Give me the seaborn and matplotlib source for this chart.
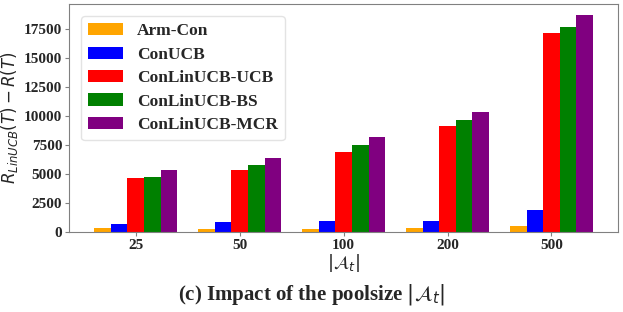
import pandas as pd
import numpy as np
import matplotlib.pyplot as plt
import seaborn as sns

pool_sizes = ['25', '50', '100', '200', '500']
algorithms = ['Arm-Con', 'ConUCB', 'ConLinUCB-UCB', 'ConLinUCB-BS', 'ConLinUCB-MCR']
colors = ['orange', 'blue', 'red', 'green', 'purple']

arm_con = [320, 270, 300, 360, 500]
conucb = [680, 850, 1000, 950, 1900]
conlinucb_ucb = [4650, 5370, 6930, 9140, 17150]
conlinucb_bs = [4740, 5750, 7470, 9630, 17620]
conlinucb_mcr = [5320, 6380, 8160, 10350, 18680]

series = [arm_con, conucb, conlinucb_ucb, conlinucb_bs, conlinucb_mcr]
rows = []
for algo, vals in zip(algorithms, series):
    for p, v in zip(pool_sizes, vals):
        rows.append({'pool': p, 'algo': algo, 'regret': v})
df = pd.DataFrame(rows)

sns.set_style('white')
plt.rcParams['font.family'] = ['Liberation Serif', 'DejaVu Serif']
plt.rcParams['mathtext.fontset'] = 'dejavusans'

fig = plt.figure(figsize=(6.23, 3.12), dpi=100)
ax = fig.add_axes([0.111, 0.256, 0.881, 0.731])
sns.barplot(data=df, x='pool', y='regret', hue='algo', hue_order=algorithms,
            order=pool_sizes, palette=colors, saturation=1, width=0.8,
            linewidth=0, ax=ax)
ax.set_xlim(-0.64, 4.64)
ax.set_ylim(0, 19620)
ax.set_yticks(np.arange(0, 17501, 2500))
ax.set_xlabel(r'$|\mathcal{A}_t|$', fontsize=13, labelpad=0)
ax.set_ylabel(r'$R_{LinUCB}(T)-R(T)$', fontsize=12, labelpad=3)
for lab in ax.get_xticklabels() + ax.get_yticklabels():
    lab.set_fontweight('bold')
    lab.set_fontsize(11)
ax.tick_params(axis='both', length=3, color='gray', pad=2, left=True, bottom=True)
for s in ax.spines.values():
    s.set_color('gray')
leg = ax.legend(loc='upper left', prop={'weight': 'bold', 'size': 12.5},
                frameon=True, borderaxespad=0.7, labelspacing=0.42)
leg.get_frame().set_edgecolor('#dddddd')
fig.text(0.5, 0.04, r'(c) Impact of the poolsize $|\mathcal{A}_t|$',
         ha='center', fontsize=15, fontweight='bold')
fig.savefig('out.png', dpi=100)
